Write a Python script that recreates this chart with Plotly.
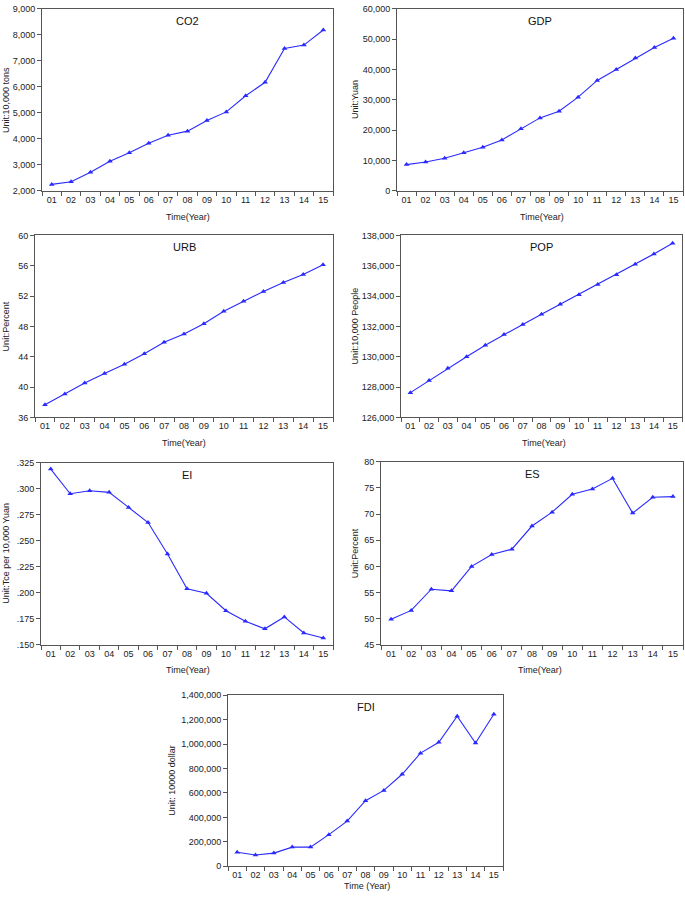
import plotly.graph_objects as go

years = ["01", "02", "03", "04", "05", "06", "07", "08", "09", "10", "11", "12", "13", "14", "15"]

co2 = [2250, 2350, 2720, 3140, 3470, 3835, 4140, 4300, 4710, 5040, 5660, 6180, 7480, 7610, 8190]
gdp = [8680, 9540, 10740, 12580, 14420, 16810, 20500, 24080, 26250, 30910, 36440, 40020, 43820, 47290, 50330]
urb = [37.65, 39.09, 40.52, 41.78, 43.0, 44.39, 45.91, 47.0, 48.35, 50.0, 51.3, 52.6, 53.78, 54.83, 56.13]
pop = [127630, 128435, 129240, 130000, 130760, 131460, 132130, 132800, 133460, 134090, 134760, 135410, 136090, 136780, 137480]
ei = [0.319, 0.2953, 0.2982, 0.2966, 0.2821, 0.2676, 0.2373, 0.2039, 0.1995, 0.1828, 0.1727, 0.1654, 0.1768, 0.1613, 0.1566]
es = [49.87, 51.58, 55.63, 55.32, 60.0, 62.28, 63.29, 67.72, 70.38, 73.8, 74.81, 76.84, 70.19, 73.23, 73.35]
fdi = [115000, 92000, 108000, 157000, 157000, 259000, 370000, 537000, 621000, 753000, 926000, 1015000, 1228000, 1009000, 1244000]

co2_ticks = [2000, 3000, 4000, 5000, 6000, 7000, 8000, 9000]
gdp_ticks = [0, 10000, 20000, 30000, 40000, 50000, 60000]
urb_ticks = [36, 40, 44, 48, 52, 56, 60]
pop_ticks = [126000, 128000, 130000, 132000, 134000, 136000, 138000]
ei_ticks = [0.150, 0.175, 0.200, 0.225, 0.250, 0.275, 0.300, 0.325]
ei_ticktext = [".150", ".175", ".200", ".225", ".250", ".275", ".300", ".325"]
es_ticks = [45, 50, 55, 60, 65, 70, 75, 80]
fdi_ticks = [0, 200000, 400000, 600000, 800000, 1000000, 1200000, 1400000]

W, H = 685, 897
FONT = "Liberation Sans, Arial, sans-serif"
LINE = "#2a2aff"
AXC = "#555555"

# panel definitions: name, values, ticks, ticktext, ylabel, xlabel, pixel box (x0,x1,y0,y1), ylabel x, xlabel pos
panels = [
    ("CO2", co2, co2_ticks, [f"{v:,}" for v in co2_ticks], "Unit:10,000 tons", "Time(Year)", (42, 333, 4, 188), 6, (188, 214)),
    ("GDP", gdp, gdp_ticks, [f"{v:,}" for v in gdp_ticks], "Unit:Yuan", "Time(Year)", (397, 683, 4, 188), 355, (542, 214)),
    ("URB", urb, urb_ticks, [str(v) for v in urb_ticks], "Unit:Percent", "Time(Year)", (35, 333, 233, 417), 6, (184, 443)),
    ("POP", pop, pop_ticks, [f"{v:,}" for v in pop_ticks], "Unit:10,000 People", "Time(Year)", (401, 682, 233, 417), 355, (544, 443)),
    ("EI", ei, ei_ticks, ei_ticktext, "Unit:Tce per 10,000 Yuan", "Time(Year)", (41, 333, 463, 647), 6, (188, 672)),
    ("ES", es, es_ticks, [str(v) for v in es_ticks], "Unit:Percent", "Time(Year)", (381, 683, 462, 647), 355, (540, 672)),
    ("FDI", fdi, fdi_ticks, [f"{v:,}" for v in fdi_ticks], "Unit: 10000 dollar", "Time (Year)", (228, 503, 698, 871), 172, (367, 891)),
]

fig = go.Figure()
annotations = []
layout = {}
for i, (name, vals, ticks, ticktext, ylab, xlab, box, ylx, xlp) in enumerate(panels):
    n = i + 1
    xa = "x" if n == 1 else f"x{n}"
    ya = "y" if n == 1 else f"y{n}"
    x0, x1, y0, y1 = box
    fig.add_trace(go.Scatter(
        x=years, y=vals, mode="lines+markers", xaxis=xa, yaxis=ya,
        line=dict(color=LINE, width=1.1),
        marker=dict(symbol="triangle-up", size=5, color=LINE),
        showlegend=False, hoverinfo="x+y",
    ))
    layout[f"xaxis{'' if n == 1 else n}"] = dict(
        domain=[x0 / W, x1 / W], anchor=ya, type="category",
        categoryorder="array", categoryarray=years,
        range=[-0.5, 14.5], tickson="boundaries", ticks="outside", ticklen=4,
        tickangle=0,
        tickcolor=AXC, showline=True, linecolor=AXC, linewidth=1, mirror=True,
        showgrid=False, zeroline=False, tickfont=dict(size=9, color="#222"),
    )
    layout[f"yaxis{'' if n == 1 else n}"] = dict(
        domain=[1 - y1 / H, 1 - y0 / H], anchor=xa,
        range=[ticks[0], ticks[-1]], tickvals=ticks, ticktext=ticktext,
        ticks="outside", ticklen=4, tickcolor=AXC,
        showline=True, linecolor=AXC, linewidth=1, mirror=True,
        showgrid=False, zeroline=False, tickfont=dict(size=9, color="#222"),
    )
    annotations.append(dict(text=name, x=(x0 + x1) / 2 / W, y=1 - (y0 + 12) / H,
                            xref="paper", yref="paper", showarrow=False,
                            font=dict(size=11, color="#111"), xanchor="center", yanchor="middle"))
    annotations.append(dict(text=ylab, x=ylx / W, y=1 - (y0 + y1) / 2 / H,
                            xref="paper", yref="paper", showarrow=False, textangle=-90,
                            font=dict(size=9, color="#222"), xanchor="center", yanchor="middle"))
    annotations.append(dict(text=xlab, x=xlp[0] / W, y=1 - xlp[1] / H,
                            xref="paper", yref="paper", showarrow=False,
                            font=dict(size=9, color="#222"), xanchor="center", yanchor="middle"))

fig.update_layout(
    width=W, height=H, margin=dict(l=0, r=0, t=0, b=0),
    paper_bgcolor="white", plot_bgcolor="white",
    font=dict(family=FONT, size=9, color="#222"),
    annotations=annotations, **layout,
)

fig.write_html("out.html", config={"displayModeBar": False},
               post_script="document.body.style.margin='0';document.body.style.overflow='hidden';")
